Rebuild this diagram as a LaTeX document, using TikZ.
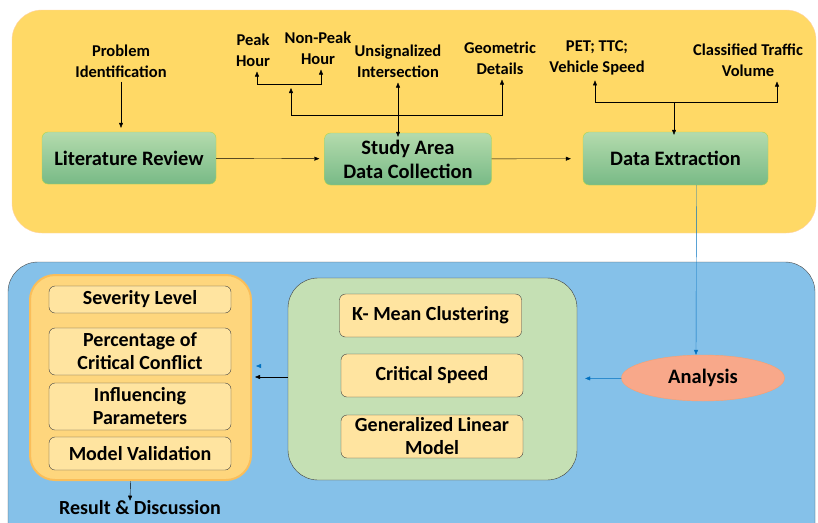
\documentclass[tikz,border=0pt]{standalone}
\usepackage{fontspec}
\setmainfont{Carlito}
\usetikzlibrary{arrows.meta,positioning,shapes.geometric}

\definecolor{panelyellow}{RGB}{255,217,102}
\definecolor{panelblue}{RGB}{133,193,233}
\definecolor{greentop}{RGB}{180,219,173}
\definecolor{greenbot}{RGB}{120,186,134}
\definecolor{panelgreen}{RGB}{197,224,180}
\definecolor{boxcream}{RGB}{255,228,160}
\definecolor{panelorange}{RGB}{254,214,125}
\definecolor{glow}{RGB}{250,190,90}
\definecolor{salmon}{RGB}{248,168,138}
\definecolor{linkblue}{RGB}{0,112,192}

\begin{document}
\begin{tikzpicture}[x=1pt,y=-1pt,
  >={Triangle[length=5pt,width=4pt]},
  lbl/.style={font=\bfseries\fontsize{16.5}{21}\selectfont, align=center, inner sep=0pt},
  stage/.style={draw=greenbot!60!yellow, rounded corners=6pt, top color=greentop, bottom color=greenbot,
    font=\bfseries\fontsize{20.5}{24}\selectfont, align=center},
  item/.style={draw=black!75, fill=boxcream, rounded corners=6pt, minimum width=182pt,
    font=\bfseries\fontsize{20}{23}\selectfont, align=center, inner sep=0pt},
  blink/.style={->, draw=linkblue, thin}]
  \useasboundingbox (0,0) rectangle (818,522);
  \clip (0,0) rectangle (818,522);

  % panels
  \draw[draw=orange!35, fill=panelyellow, rounded corners=30pt] (12,10) rectangle (816,233);
  \draw[draw=black!70, fill=panelblue, rounded corners=30pt] (8,262) rectangle (815,560);

  % upper row
  \node[stage, minimum width=174pt, minimum height=52pt] (lit) at (129,158) {Literature Review};
  \node[stage, minimum width=167pt, minimum height=52pt] (study) at (408,159) {Study Area\\Data Collection};
  \node[stage, minimum width=185pt, minimum height=53pt] (extract) at (675.5,158.5) {Data Extraction};

  \node[lbl] (prob) at (121,61) {Problem\\Identification};
  \node[lbl] (peak) at (253,50) {Peak\\Hour};
  \node[lbl] (nonpeak) at (318,48) {Non-Peak\\Hour};
  \node[lbl] (unsig) at (398,61) {Unsignalized\\Intersection};
  \node[lbl] (geom) at (500,58) {Geometric\\Details};
  \node[lbl] (pet) at (597,58) {PET; TTC;\\Vehicle Speed};
  \node[lbl] (traffic) at (748,60) {Classified Traffic\\Volume};

  \draw[->, shorten <=4pt, shorten >=4pt] (prob.south) -- (prob.south |- lit.north);
  \draw[->, shorten >=5pt] (lit) -- (study);
  \draw[->, shorten >=12pt] (study) -- (extract);

  % study area branches
  \coordinate (fork) at (291,84);
  \coordinate (bus) at (291,115);
  \draw[->] (fork) -| ([xshift=4pt, yshift=-5pt]peak.south);
  \draw[->] (fork) -| ([xshift=3pt, yshift=-5pt]nonpeak.south);
  \draw[->] (bus) -- ([yshift=-4pt]fork);
  \draw[->] (bus) -| ([xshift=2pt, yshift=-5pt]geom.south);
  \draw[<->] ([yshift=-5pt]unsig.south) -- ([yshift=-4pt]unsig.south |- study.north);

  % extraction branches
  \coordinate (tap) at (674,102);
  \draw[->] (tap) -| ([xshift=-2pt, yshift=-5pt]pet.south);
  \draw[->] (tap) -| ([xshift=29pt, yshift=-5pt]traffic.south);
  \draw[->] (tap) -- ([yshift=-3pt]tap |- extract.north);

  % lower row
  \node[draw=salmon!80!orange, fill=salmon, ellipse, minimum width=163pt, minimum height=46pt,
    font=\bfseries\fontsize{20.5}{24}\selectfont] (analysis) at (703,378) {Analysis};

  \node[draw=black!75, fill=panelgreen, rounded corners=30pt, minimum width=289pt, minimum height=202pt] (methods) at (432.5,379) {};
  \node[item, minimum height=43pt] (kmeans) at (430.5,315.5) {K- Mean Clustering};
  \node[item, minimum height=43pt] (speed) at (432,375.5) {Critical Speed};
  \node[item, minimum height=43pt] (glm) at (432,436.5) {Generalized Linear\\Model};

  \node[draw=glow, line width=2pt, fill=panelorange, rounded corners=25pt, minimum width=221pt, minimum height=205pt] (result) at (140.5,377.5) {};
  \node[item, minimum height=27pt] (severity) at (140,299.5) {Severity Level};
  \node[item, minimum height=47pt] (percent) at (140,351.5) {Percentage of\\Critical Conflict};
  \node[item, minimum height=47pt] (influence) at (140,406.5) {Influencing\\Parameters};
  \node[item, minimum height=33pt] (valid) at (140,453.5) {Model Validation};

  \node[font=\bfseries\fontsize{20}{24}\selectfont, inner sep=0pt] (discussion) at (140,508) {Result \& Discussion};

  \draw[blink] ([xshift=21pt]extract.south) -- ([xshift=-7pt]analysis.north);
  \draw[blink, shorten >=8pt] (analysis) -- (methods);
  \draw[->, shorten >=3pt] ([yshift=2pt]methods.west) -- ([yshift=2pt]methods.west -| result.east);
  \coordinate (stray) at (259,366);
  \draw[blink] (stray) -- ++(-3,0);
  \draw[->] ([xshift=-10pt]result.south) -- ([xshift=-10pt]discussion.north);
\end{tikzpicture}
\end{document}
